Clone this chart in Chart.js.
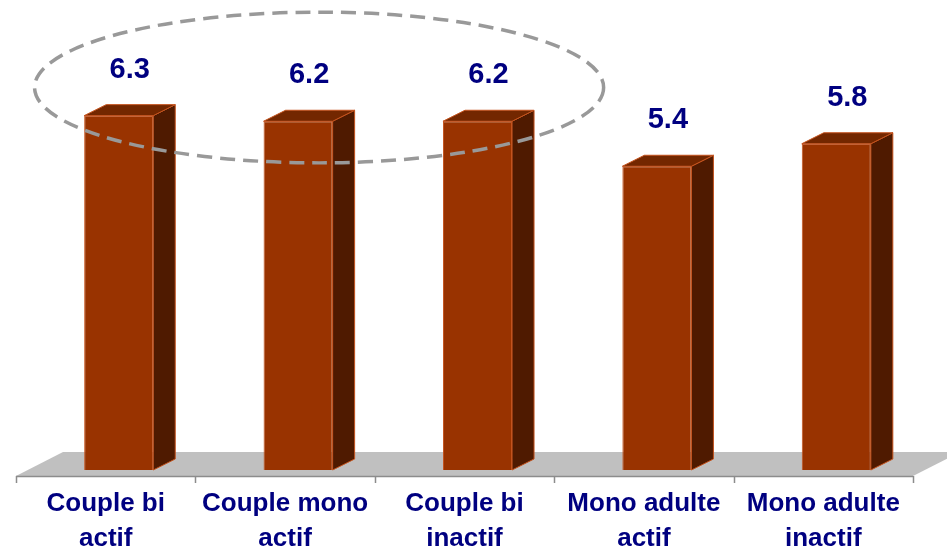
<!DOCTYPE html>
<html>
<head>
<meta charset="utf-8">
<script src="https://cdn.jsdelivr.net/npm/chart.js@4.4.1/dist/chart.umd.min.js"></script>
<style>
  html, body { margin: 0; padding: 0; background: #fff; }
  #wrap { width: 947px; height: 552px; position: relative; }
</style>
</head>
<body>
<div id="wrap"><canvas id="chart"></canvas></div>
<script>
// categories (two lines each) and values
const categories = [
    ['Couple bi', 'actif'],
    ['Couple mono', 'actif'],
    ['Couple bi', 'inactif'],
    ['Mono adulte', 'actif'],
    ['Mono adulte', 'inactif']
];
const values = [6.3, 6.2, 6.2, 5.4, 5.8];
const valueLabels = ['6.3', '6.2', '6.2', '5.4', '5.8'];
// which bars are circled by the dashed ellipse
const highlighted = [0, 1, 2];

const NAVY = '#000080';
const DEPTH_X = 22, DEPTH_Y = -11;     // bar extrusion
const FLOOR_X = 47, FLOOR_Y = -24;     // floor depth
const FLOOR_OFF_X = -13, FLOOR_OFF_Y = 6; // floor front edge vs bar front

const fake3d = {
    id: 'fake3d',
    beforeDatasetsDraw(chart) {
        const ctx = chart.ctx;
        const x = chart.scales.x;
        const y = chart.scales.y;
        const base = y.getPixelForValue(0);
        const fy = base + FLOOR_OFF_Y;
        const left = chart.chartArea.left + FLOOR_OFF_X;
        const right = chart.chartArea.right + FLOOR_OFF_X;

        // floor
        ctx.save();
        ctx.fillStyle = '#c0c0c0';
        ctx.beginPath();
        ctx.moveTo(left, fy);
        ctx.lineTo(right, fy);
        ctx.lineTo(right + FLOOR_X, fy + FLOOR_Y);
        ctx.lineTo(left + FLOOR_X, fy + FLOOR_Y);
        ctx.closePath();
        ctx.fill();

        // axis line with ticks at category boundaries
        ctx.strokeStyle = '#8c8c8c';
        ctx.lineWidth = 1.5;
        ctx.beginPath();
        ctx.moveTo(left, fy + 0.5);
        ctx.lineTo(right, fy + 0.5);
        const step = (chart.chartArea.right - chart.chartArea.left) / categories.length;
        for (let i = 0; i <= categories.length; i++) {
            const tx = Math.round(left + i * step) + 0.5;
            ctx.moveTo(tx, fy);
            ctx.lineTo(tx, fy + 7);
        }
        ctx.stroke();

        // category labels
        ctx.fillStyle = NAVY;
        ctx.font = 'bold 26px "Liberation Sans", Arial, sans-serif';
        ctx.textAlign = 'center';
        ctx.textBaseline = 'middle';
        categories.forEach((lines, i) => {
            const cx = x.getPixelForValue(i) + FLOOR_OFF_X;
            lines.forEach((line, j) => {
                ctx.fillText(line, cx, fy + 28 + j * 35);
            });
        });
        ctx.restore();
    },
    afterDatasetsDraw(chart) {
        const ctx = chart.ctx;
        const meta = chart.getDatasetMeta(0);
        const x = chart.scales.x;
        const y = chart.scales.y;
        ctx.save();
        meta.data.forEach((bar, i) => {
            const l = bar.x - bar.width / 2;
            const r = bar.x + bar.width / 2;
            const t = bar.y;
            const b = bar.base;
            ctx.lineWidth = 1;
            ctx.strokeStyle = '#c4521c';
            // side face
            ctx.fillStyle = '#4f1a00';
            ctx.beginPath();
            ctx.moveTo(r, t);
            ctx.lineTo(r + DEPTH_X, t + DEPTH_Y);
            ctx.lineTo(r + DEPTH_X, b + DEPTH_Y);
            ctx.lineTo(r, b);
            ctx.closePath();
            ctx.fill();
            ctx.stroke();
            // top face
            ctx.fillStyle = '#732700';
            ctx.beginPath();
            ctx.moveTo(l, t);
            ctx.lineTo(l + DEPTH_X, t + DEPTH_Y);
            ctx.lineTo(r + DEPTH_X, t + DEPTH_Y);
            ctx.lineTo(r, t);
            ctx.closePath();
            ctx.fill();
            ctx.stroke();

            // value label
            ctx.fillStyle = NAVY;
            ctx.font = 'bold 29px "Liberation Sans", Arial, sans-serif';
            ctx.textAlign = 'center';
            ctx.textBaseline = 'middle';
            ctx.fillText(valueLabels[i], bar.x + DEPTH_X / 2, t - 46);
        });

        // dashed ellipse around the highlighted bars
        const first = highlighted[0];
        const last = highlighted[highlighted.length - 1];
        const step = x.getPixelForValue(1) - x.getPixelForValue(0);
        const cx = (x.getPixelForValue(first) + x.getPixelForValue(last)) / 2 + 21;
        const rx = (x.getPixelForValue(last) - x.getPixelForValue(first)) / 2 + step * 0.586;
        const cy = y.getPixelForValue(6.8);
        const ry = y.getPixelForValue(0) - y.getPixelForValue(1.34);
        ctx.strokeStyle = '#999999';
        ctx.lineWidth = 3.5;
        ctx.setLineDash([15, 8]);
        ctx.beginPath();
        ctx.ellipse(cx, cy, rx, ry, 0, 0, Math.PI * 2);
        ctx.stroke();
        ctx.restore();
    }
};

new Chart(document.getElementById('chart'), {
    type: 'bar',
    data: {
        labels: categories,
        datasets: [{
            data: values,
            backgroundColor: '#993300',
            borderColor: '#c4521c',
            borderWidth: 1,
            barPercentage: 0.385,
            categoryPercentage: 1
        }]
    },
    options: {
        responsive: true,
        maintainAspectRatio: false,
        animation: false,
        layout: {
            padding: { left: 29, right: 21, top: 20, bottom: 82 }
        },
        plugins: {
            legend: { display: false },
            tooltip: { enabled: false }
        },
        scales: {
            x: { display: false },
            y: { display: false, min: 0, max: 8 }
        }
    },
    plugins: [fake3d]
});
</script>
</body>
</html>
